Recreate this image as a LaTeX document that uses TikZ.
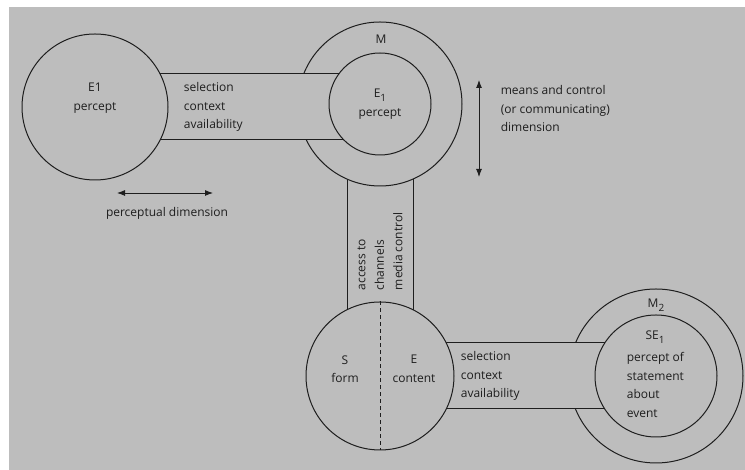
\documentclass[tikz,border=0pt]{standalone}
\usepackage{fontspec}
\setmainfont{Open Sans}
\usetikzlibrary{arrows.meta,calc}
\definecolor{paper}{HTML}{BDBDBD}
\definecolor{ink}{HTML}{1E1E1E}
\newcommand{\lowsub}[1]{\raisebox{-3.5pt}{\fontsize{10}{10}\selectfont #1}}

\begin{document}
\begin{tikzpicture}[x=1pt, y=1pt, line width=1pt,
  every node/.style={font=\fontsize{12}{18.5}\selectfont, text=ink},
  disc/.style={circle, draw=ink, fill=paper, inner sep=0pt},
  edge/.style={draw=ink},
  dim/.style={draw=ink, line width=0.9pt, {Latex[length=8pt,width=6pt]}-{Latex[length=8pt,width=6pt]}}]

  % Background
  \fill[paper] (9,0) rectangle (745,463);
  \useasboundingbox (0,0) rectangle (745,470);

  % Centres
  \coordinate (E1) at (95,363);
  \coordinate (M) at (380,366);
  \coordinate (SE) at (380,94);
  \coordinate (M2) at (656,94);

  % Vertical band
  \fill[paper] ($(M)+(-33,0)$) rectangle ($(SE)+(33,0)$);
  \draw[edge] ($(M)+(-33,0)$) -- ($(SE)+(-33,0)$);
  \draw[edge] ($(M)+(33,0)$) -- ($(SE)+(33,0)$);
  \node[disc, minimum size=164pt] (Mout) at (M) {};

  % Upper band
  \fill[paper] ($(E1)+(0,-33)$) rectangle ($(E1 -| M)+(0,33)$);
  \draw[edge] ($(E1)+(0,33)$) -- ($(E1 -| M)+(0,33)$);
  \draw[edge] ($(E1)+(0,-33)$) -- ($(E1 -| M)+(0,-33)$);
  \node[disc, minimum size=146pt] (E1c) at (E1) {};
  \node[disc, minimum size=102pt] (Min) at (M) {};

  % Lower band
  \node[disc, minimum size=174pt] (M2out) at (M2) {};
  \fill[paper] ($(SE)+(0,-33)$) rectangle ($(M2)+(0,33)$);
  \draw[edge] ($(SE)+(0,33)$) -- ($(M2)+(0,33)$);
  \draw[edge] ($(SE)+(0,-33)$) -- ($(M2)+(0,-33)$);
  \node[disc, minimum size=148pt] (SEc) at (SE) {};
  \node[disc, minimum size=122pt] (M2in) at (M2) {};
  \draw[edge, dash pattern=on 4pt off 3pt] (SEc.north) -- (SEc.south);

  % Dimension arrows
  \coordinate (pdL) at (117,277);
  \coordinate (pdR) at (213,277);
  \draw[dim] (pdL) -- (pdR);
  \coordinate (mcT) at (479,390);
  \coordinate (mcB) at (479,293);
  \draw[dim] (mcT) -- (mcB);

  % Labels
  \node[align=center] (E1t) at (95,372) {E1\\percept};
  \node[anchor=west, align=left] (selA) at (180,363) {selection\\context\\availability};
  \node (Mt) at (381,431) {M};
  \node[align=center] (Eit) at (380,366) {E\lowsub{1}\\percept};
  \node[anchor=west, align=left] (mct) at (497,361) {means and control\\(or communicating)\\dimension};
  \node (pdt) at (167,257) {perceptual dimension};
  \node[rotate=90, anchor=west, align=left] (acc) at (380,176) {access to\\channels\\media control};
  \node[align=center] (St) at (345,101) {S\\form};
  \node[align=center] (Et) at (414,101) {E\\content};
  \node[anchor=west, align=left] (selB) at (457,94) {selection\\context\\availability};
  \node (M2t) at (656,165) {M\lowsub{2}};
  \node (SEt) at (655,133) {SE\lowsub{1}};
  \node[anchor=west, align=left] (pst) at (623,85) {percept of\\statement\\about\\event};
\end{tikzpicture}
\end{document}
